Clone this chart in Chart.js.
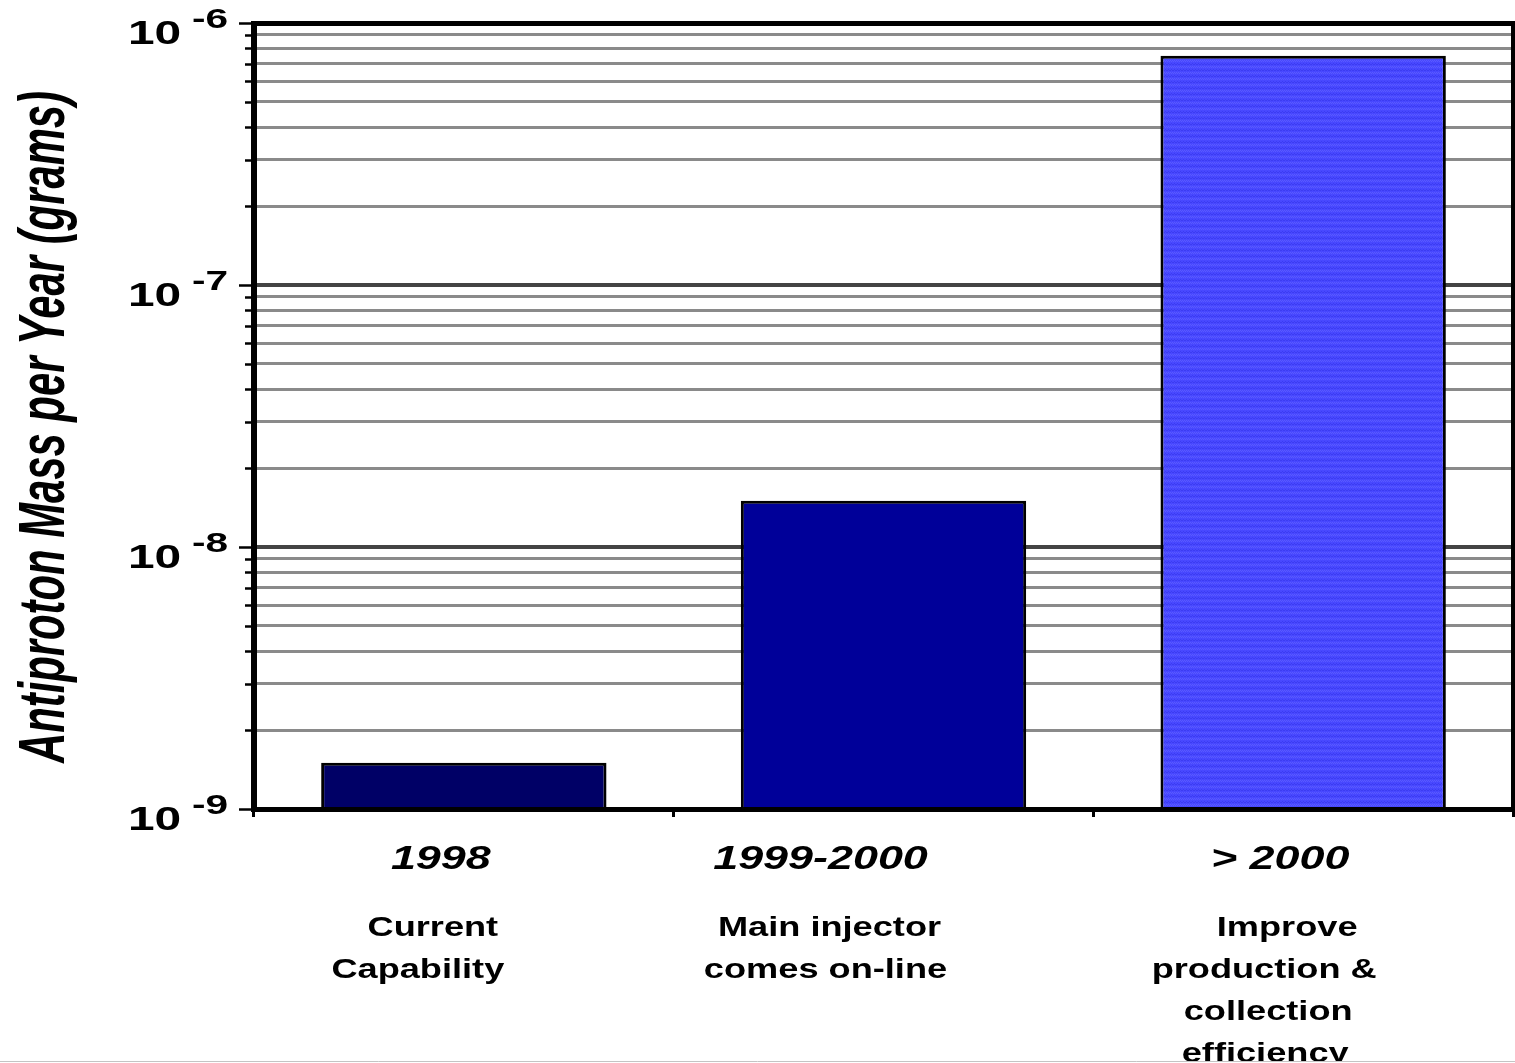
<!DOCTYPE html>
<html>
<head>
<meta charset="utf-8">
<title>Antiproton Mass per Year</title>
<script src="https://cdn.jsdelivr.net/npm/chart.js@4/dist/chart.umd.min.js"></script>
<style>
  html, body { margin: 0; padding: 0; background: #ffffff; }
  #wrap { width: 1515px; height: 1063px; position: relative; }
  canvas { display: block; }
</style>
</head>
<body>
<div id="wrap"><canvas id="chart" width="1515" height="1063"></canvas></div>
<script>
// ---- data ----
const categories = ['1998', '1999-2000', '> 2000'];
const descriptions = [
  ['Current', 'Capability'],
  ['Main injector', 'comes on-line'],
  ['Improve', 'production &', 'collection', 'efficiency']
];
const massPerYear = [1.5e-9, 1.5e-8, 7.5e-7];   // grams per year
const decadeExponents = [-9, -8, -7, -6];         // labelled powers of ten
const minorMantissas = [2, 3, 4, 5, 6, 7, 8, 9];  // minor gridlines inside each decade
const yTitle = 'Antiproton Mass per Year (grams)';

// ---- styling ----
const FONT = '"Liberation Sans", Arial, Helvetica, sans-serif';

// dotted texture for the light blue bar
function makeTexture() {
  const c = document.createElement('canvas');
  c.width = 6; c.height = 6;
  const g = c.getContext('2d');
  g.fillStyle = '#4848ff';
  g.fillRect(0, 0, 6, 6);
  g.fillStyle = '#5a5aff';
  [[0,0],[2,0],[4,0],[1,1],[3,1],[5,1]].forEach(([x, y]) => g.fillRect(x, y, 1, 1));
  g.fillStyle = '#3c3cf2';
  [[1,3],[4,3],[0,4],[2,4],[3,4],[5,4]].forEach(([x, y]) => g.fillRect(x, y, 1, 1));
  return g.createPattern(c, 'repeat');
}
const barColors = ['#000066', '#000099', makeTexture()];

// tick values for the log axis: decades plus 2..9 multiples between them
function buildLogTicks() {
  const ticks = [];
  decadeExponents.forEach((e, i) => {
    ticks.push({ value: Math.pow(10, e), major: true });
    if (i < decadeExponents.length - 1) {
      minorMantissas.forEach(m => ticks.push({ value: m * Math.pow(10, e), major: false }));
    }
  });
  return ticks;
}

function stretchedText(ctx, text, x, y, font, sx, align) {
  ctx.save();
  ctx.font = font;
  ctx.translate(x, y);
  ctx.scale(sx, 1);
  ctx.textAlign = align || 'left';
  ctx.textBaseline = 'alphabetic';
  ctx.fillText(text, 0, 0);
  ctx.restore();
}

// frame lines and y tick marks drawn on top of the bars
const framePlugin = {
  id: 'frame',
  afterDatasetsDraw(chart) {
    const { ctx, chartArea: a, scales } = chart;
    const yScale = scales.y;
    ctx.save();
    ctx.strokeStyle = '#000000';
    ctx.lineCap = 'butt';
    // tick marks left of the axis
    yScale.ticks.forEach(t => {
      const y = Math.round(yScale.getPixelForValue(t.value)) + 0.5;
      const len = t.major ? 15 : 9;
      ctx.lineWidth = 2.5;
      ctx.beginPath();
      ctx.moveTo(a.left - len, y);
      ctx.lineTo(a.left, y);
      ctx.stroke();
    });
    // top
    ctx.lineWidth = 5;
    ctx.beginPath(); ctx.moveTo(a.left - 3, a.top + 0.5); ctx.lineTo(a.right + 2, a.top + 0.5); ctx.stroke();
    // bottom
    ctx.beginPath(); ctx.moveTo(a.left - 3, a.bottom + 0.5); ctx.lineTo(a.right + 2, a.bottom + 0.5); ctx.stroke();
    // right
    ctx.lineWidth = 4;
    ctx.beginPath(); ctx.moveTo(a.right, a.top - 2); ctx.lineTo(a.right, a.bottom + 3); ctx.stroke();
    // left (value axis)
    ctx.lineWidth = 6;
    ctx.beginPath(); ctx.moveTo(a.left, a.top - 2); ctx.lineTo(a.left, a.bottom + 3); ctx.stroke();
    ctx.restore();
  }
};

// axis labels: powers of ten, category names, descriptions and the axis title
const labelPlugin = {
  id: 'labels',
  afterDraw(chart) {
    const { ctx, scales } = chart;
    const yScale = scales.y, xScale = scales.x;
    ctx.save();
    ctx.fillStyle = '#000000';

    // powers of ten
    decadeExponents.forEach(e => {
      const y = yScale.getPixelForValue(Math.pow(10, e));
      stretchedText(ctx, '10', 128, y + 21, 'bold 33px ' + FONT, 1.45, 'left');
      stretchedText(ctx, String(e), 192, y + 5, 'bold 28px ' + FONT, 1.45, 'left');
    });

    // category names and descriptions (text blocks sit a little left of the bar centres)
    const yearShift = [-23, -63, -23];
    const lineShift = [[-31, -46], [-54, -58], [-16, -39, -35, -38]];
    ctx.save();
    ctx.beginPath();
    ctx.rect(0, 0, 1515, 1061);
    ctx.clip();
    categories.forEach((name, i) => {
      const cx = xScale.getPixelForValue(i);
      stretchedText(ctx, name, cx + yearShift[i], 869, 'italic bold 33px ' + FONT, 1.36, 'center');
      descriptions[i].forEach((line, j) => {
        stretchedText(ctx, line, cx + lineShift[i][j], 936 + j * 42, 'bold 27px ' + FONT, 1.34, 'center');
      });
    });
    ctx.restore();

    // rotated axis title
    ctx.save();
    ctx.translate(64, 427);
    ctx.rotate(-Math.PI / 2);
    ctx.font = 'italic bold 42px ' + FONT;
    const w = ctx.measureText(yTitle).width;
    ctx.scale(672 / w, 1.55);
    ctx.textAlign = 'center';
    ctx.textBaseline = 'alphabetic';
    ctx.fillText(yTitle, 0, 0);
    ctx.restore();

    // thin border along the bottom edge
    ctx.strokeStyle = '#c4c4c4';
    ctx.lineWidth = 1;
    ctx.beginPath(); ctx.moveTo(0, 1061.5); ctx.lineTo(1515, 1061.5); ctx.stroke();
    ctx.restore();
  }
};

new Chart(document.getElementById('chart'), {
  type: 'bar',
  data: {
    labels: categories,
    datasets: [{
      data: massPerYear,
      backgroundColor: barColors,
      borderColor: '#000000',
      borderWidth: 3,
      borderSkipped: 'start',
      barPercentage: 0.68,
      categoryPercentage: 1.0
    }]
  },
  options: {
    responsive: false,
    devicePixelRatio: 1,
    animation: false,
    layout: { padding: { top: 23, right: 2, left: 0, bottom: 0 } },
    plugins: { legend: { display: false }, tooltip: { enabled: false }, title: { display: false } },
    scales: {
      x: {
        type: 'category',
        position: 'bottom',
        offset: true,
        afterFit(scale) { scale.height = 254; },
        ticks: { display: false },
        border: { display: false },
        grid: {
          display: true,
          offset: true,
          drawOnChartArea: false,
          drawTicks: true,
          tickLength: 8,
          color: '#000000',
          lineWidth: 3
        }
      },
      y: {
        type: 'logarithmic',
        position: 'left',
        min: Math.pow(10, decadeExponents[0]),
        max: Math.pow(10, decadeExponents[decadeExponents.length - 1]),
        afterFit(scale) { scale.width = 254; },
        afterBuildTicks(scale) { scale.ticks = buildLogTicks(); },
        ticks: { display: false },
        border: { display: false },
        grid: {
          drawTicks: false,
          color: ctx => (ctx.tick && ctx.tick.major) ? '#444444' : '#8a8a8a',
          lineWidth: ctx => (ctx.tick && ctx.tick.major) ? 4 : 3
        }
      }
    }
  },
  plugins: [framePlugin, labelPlugin]
});
</script>
</body>
</html>
